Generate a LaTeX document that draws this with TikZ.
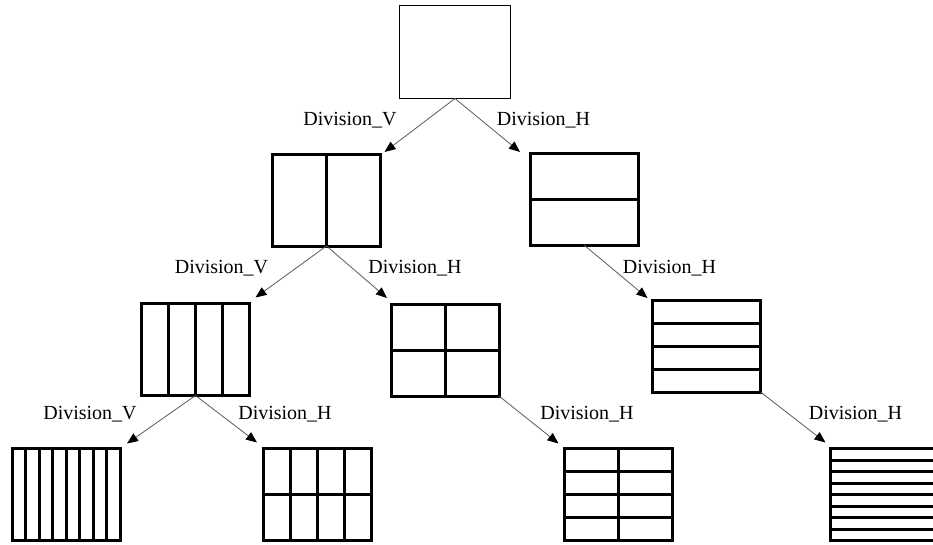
\documentclass[tikz,border=0pt]{standalone}
\usepackage{fontspec}
\setmainfont{Liberation Serif}
\usetikzlibrary{arrows.meta,calc}
\definecolor{edgegray}{HTML}{5A5A5A}
\tikzset{
    plainbox/.style={draw=black,line width=1pt,minimum width=111pt,
      minimum height=93pt,inner sep=0pt,outer sep=0pt},
    blockbox/.style={draw=black,line width=3pt,minimum width=108pt,
      minimum height=92pt,inner sep=0pt,outer sep=0pt},
    cells/.style 2 args={path picture={
      \foreach \k [evaluate=\k as \f using (\k-1)/#1] in {1,...,#1}
        \draw[line width=3pt]
          ($(path picture bounding box.south west)!\f!(path picture bounding box.south east)$) --
          ($(path picture bounding box.north west)!\f!(path picture bounding box.north east)$);
      \foreach \k [evaluate=\k as \f using (\k-1)/#2] in {1,...,#2}
        \draw[line width=3pt]
          ($(path picture bounding box.north west)!\f!(path picture bounding box.south west)$) --
          ($(path picture bounding box.north east)!\f!(path picture bounding box.south east)$);
    }},
    splitarrow/.style={-{Triangle[length=11pt,width=9pt,color=black]},
      draw=edgegray,line width=0.8pt},
    steplabel/.style={anchor=base,inner sep=0pt,font=\fontsize{20}{24}\selectfont}
}

\begin{document}
\begin{tikzpicture}[x=1pt,y=-1pt]
  \clip (0,0) rectangle (933,544);
  % boxes
  \node[plainbox] (root) at (455,52) {};
  \node[blockbox,cells={2}{1}] (v2) at (326.5,200) {};
  \node[blockbox,cells={1}{2}] (h2) at (584,199) {};
  \node[blockbox,cells={4}{1}] (v4) at (195.5,349.5) {};
  \node[blockbox,cells={2}{2}] (h2v2) at (445,350) {};
  \node[blockbox,cells={1}{4}] (h4) at (706.5,346) {};
  \node[blockbox,cells={8}{1}] (v8) at (66,494.5) {};
  \node[blockbox,cells={4}{2}] (v4h2) at (317,494.5) {};
  \node[blockbox,cells={2}{4}] (h4v2) at (618.5,494.5) {};
  \node[blockbox,cells={1}{8}] (h8) at (884.5,494.5) {};
  % arrows
  \draw[splitarrow] (root.south) -- ($(v2.north east)+(4,-2)$);
  \draw[splitarrow] (root.south) -- ($(h2.north west)+(-10,-1)$);
  \draw[splitarrow] (v2.south) -- ($(v4.north east)+(6,-6)$);
  \draw[splitarrow] (v2.south) -- ($(h2v2.north west)+(-4,-6)$);
  \draw[splitarrow] (h2.south) -- ($(h4.north west)+(-5,-2)$);
  \draw[splitarrow] (v4.south) -- ($(v8.north east)+(7,-5)$);
  \draw[splitarrow] (v4.south) -- ($(v4h2.north west)+(-6,-6)$);
  \draw[splitarrow] (h2v2.south east) -- ($(h4v2.north west)+(-6,-5)$);
  \draw[splitarrow] (h4.south east) -- ($(h8.north west)+(-5,-6)$);
  % labels
  \node[steplabel] (l1v) at (350,125) {Division\_V};
  \node[steplabel] (l1h) at (543.5,125) {Division\_H};
  \node[steplabel] (l2v) at (221.5,273) {Division\_V};
  \node[steplabel] (l2h) at (415,273) {Division\_H};
  \node[steplabel] (l2hh) at (669.5,273) {Division\_H};
  \node[steplabel] (l3v) at (90,419) {Division\_V};
  \node[steplabel] (l3h) at (285,419) {Division\_H};
  \node[steplabel] (l3hh) at (587,419) {Division\_H};
  \node[steplabel] (l3hhh) at (855.5,419) {Division\_H};
\end{tikzpicture}
\end{document}
